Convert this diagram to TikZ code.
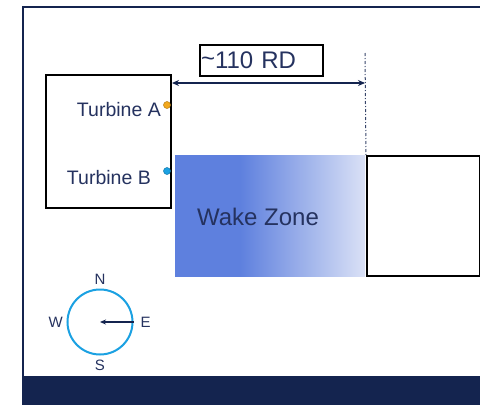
\documentclass[tikz,border=0pt]{standalone}
\usepackage{fontspec}
\setmainfont{Liberation Sans}
\usetikzlibrary{arrows.meta, positioning, calc}
\definecolor{frnavy}{HTML}{14244F}
\definecolor{txnavy}{HTML}{25325F}
\definecolor{wakeblue}{HTML}{5E80DE}
\definecolor{wakepale}{HTML}{DAE1F6}
\definecolor{dotgold}{HTML}{F2A81D}
\definecolor{dotcyan}{HTML}{1BA1E2}
\pgfdeclarehorizontalshading{wakefade}{100bp}{color(0bp)=(wakeblue); color(25bp)=(wakeblue); color(42bp)=(wakeblue); color(75bp)=(wakepale); color(100bp)=(wakepale)}

\begin{document}
\begin{tikzpicture}[x=1pt, y=-1pt, >={Stealth[length=7pt, width=6pt]},
  blockbox/.style={draw=black, line width=2pt, fill=white, inner sep=0pt, anchor=north west},
  turbdot/.style={circle, inner sep=0pt, minimum size=7pt, line width=0.5pt},
  turbtext/.style={text=txnavy, font=\fontsize{19.5}{21}\selectfont, inner sep=0pt, anchor=east},
  bigtext/.style={text=txnavy, font=\fontsize{24}{26}\selectfont},
  compasstext/.style={text=txnavy, font=\fontsize{15}{17}\selectfont, inner sep=0pt}]

% Background
\useasboundingbox (0,0) rectangle (480,405);
\fill[white] (0,0) rectangle (480,405);

% Frame and bottom band
\draw[frnavy, line width=2.2pt] (23,377) -- (23,7) -- (481,7);
\fill[frnavy] (22,376) rectangle (480,405);

% Wake zone
\node[shading=wakefade, minimum width=190, minimum height=121, inner sep=0pt, anchor=north west] (wake) at (175,155) {};
\node[bigtext] (wakelabel) at (258,217) {Wake Zone};

% Turbine block
\node[blockbox, minimum width=125, minimum height=133] (farm) at (45,74) {};
\node[turbdot, fill=dotgold, draw=dotgold!75!black] (dotA) at (167,105) {};
\node[turbdot, fill=dotcyan, draw=dotcyan!75!black] (dotB) at (167,171) {};
\node[turbtext] (labA) at (161,110) {Turbine A};
\node[turbtext] (labB) at (151,178) {Turbine B};

% Downstream block
\node[blockbox, minimum width=113, minimum height=120] (down) at (366,155) {};

% Reference line
\coordinate (reftop) at (365,53);
\draw[frnavy!85, line width=1pt, dash dot] (reftop) -- (down.north west);

% Spacing arrow and label
\coordinate (arrowend) at (365,83);
\draw[<->, frnavy, line width=1.6pt] (farm.east |- arrowend) -- (arrowend);
\node[draw=black, line width=2pt, anchor=north west, minimum height=31, text width=121pt, inner xsep=1pt, inner ysep=0pt, align=left, bigtext] (gap) at (199,44) {\raisebox{0.2ex}{\textasciitilde}110 RD};

% Compass
\node[circle, draw=dotcyan, line width=2pt, minimum size=65, inner sep=0pt] (compass) at (100,322) {};
\draw[->, >={Stealth[length=6pt, width=5pt]}, frnavy, line width=1.2pt] (compass.east) -- (compass.center);
\node[compasstext, above=3.5pt of compass] (north) {N};
\node[compasstext, below=4.5pt of compass] (south) {S};
\node[compasstext, left=3.5pt of compass] (west) {W};
\node[compasstext, right=7pt of compass] (east) {E};

\end{tikzpicture}
\end{document}
